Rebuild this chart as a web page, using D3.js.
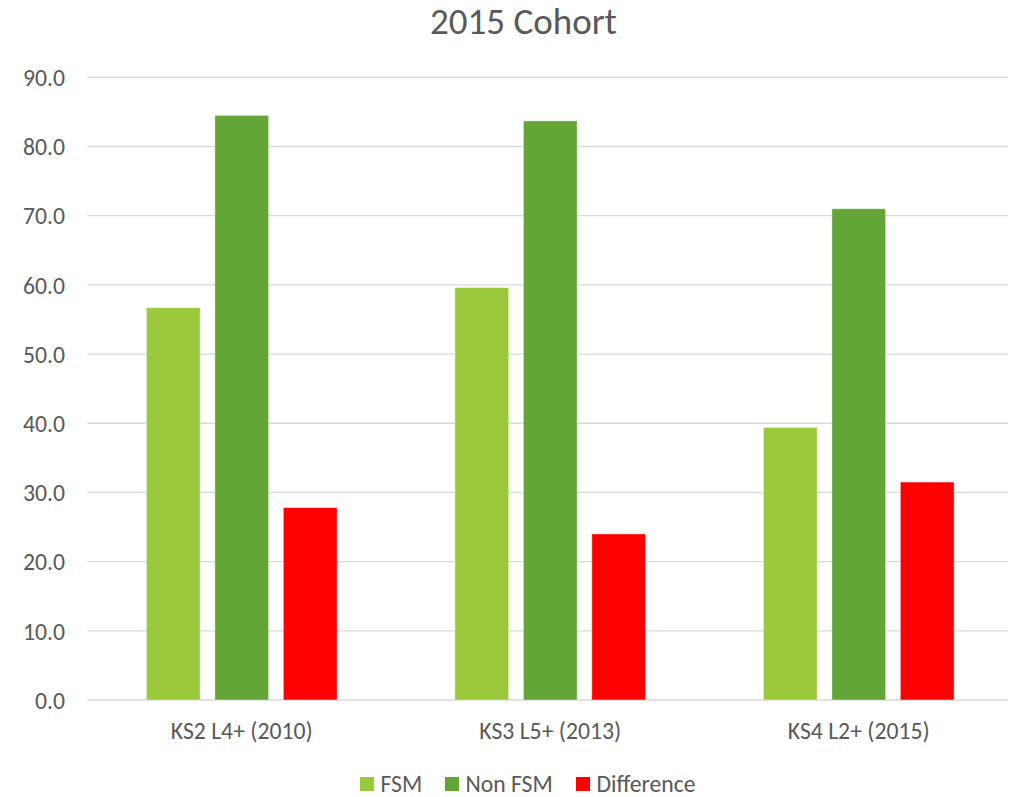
<!DOCTYPE html>
<html>
<head>
<meta charset="utf-8">
<script src="https://cdn.jsdelivr.net/npm/d3@7"></script>
<style>
  html, body { margin: 0; padding: 0; background: #ffffff; }
  svg { display: block; font-family: Carlito, Lato, "Open Sans", sans-serif; }
</style>
</head>
<body>
<svg id="chart" width="1016" height="797"></svg>
<script>
const categories = ["KS2 L4+ (2010)", "KS3 L5+ (2013)", "KS4 L2+ (2015)"];
const seriesNames = ["FSM", "Non FSM", "Difference"];
const fsm = [56.7, 59.6, 39.4];
const nonFsm = [84.5, 83.7, 71.0];
const difference = [27.8, 24.0, 31.5];
const yTicks = [0, 10, 20, 30, 40, 50, 60, 70, 80, 90];
const colors = ["#9ACA3C", "#63A537", "#FF0000"];
const title = "2015 Cohort";

const seriesValues = [fsm, nonFsm, difference];
const rows = categories.map((c, i) => ({
  cat: c,
  vals: seriesNames.map((s, j) => ({ key: s, value: seriesValues[j][i], color: colors[j] }))
}));

const FONT = "Carlito, Lato, 'Open Sans', sans-serif";
const svg = d3.select("#chart");
const plotLeft = 87.5, plotRight = 1008, bandRight = 1013;
const y = d3.scaleLinear().domain([0, 90]).range([700, 77.3]);
const x0 = d3.scaleBand().domain(categories).range([plotLeft, bandRight])
  .paddingInner(0.382).paddingOuter(0.191);
const x1 = d3.scaleBand().domain(seriesNames).range([0, x0.bandwidth()])
  .paddingInner(0.215).paddingOuter(0);

const textColor = "#595959";

// choose a font size so a sample text spans the target width
function fitSize(sample, targetWidth) {
  const t = svg.append("text").attr("font-family", FONT).attr("font-size", 100).text(sample);
  const w = t.node().getComputedTextLength();
  t.remove();
  return 100 * targetWidth / w;
}
const titleSize = fitSize(title, 187);
const tickSize = fitSize("90.0", 42);
const catSize = fitSize(categories[0], 142);
const legSize = fitSize("Difference", 99);

// title
svg.append("text")
  .attr("x", 523.5).attr("y", 33.5)
  .attr("text-anchor", "middle")
  .attr("fill", textColor)
  .attr("font-family", FONT)
  .attr("font-size", titleSize)
  .text(title);

// gridlines
svg.append("g").selectAll("line").data(yTicks).join("line")
  .attr("x1", plotLeft).attr("x2", plotRight)
  .attr("y1", d => y(d)).attr("y2", d => y(d))
  .attr("stroke", "#d9d9d9").attr("stroke-width", 1.3);

// y axis labels
const yAxis = d3.axisLeft(y).tickValues(yTicks).tickFormat(d3.format(".1f")).tickSize(0).tickPadding(0);
const gy = svg.append("g").attr("transform", "translate(65,0)").call(yAxis);
gy.select(".domain").remove();
gy.attr("font-size", null).attr("font-family", null);
gy.selectAll("text").attr("fill", textColor).attr("font-size", tickSize)
  .attr("font-family", FONT).attr("dy", "0.35em");

// bars
const groups = svg.append("g").selectAll("g").data(rows).join("g")
  .attr("transform", d => `translate(${x0(d.cat)},0)`);
groups.selectAll("rect").data(d => d.vals).join("rect")
  .attr("x", d => x1(d.key))
  .attr("width", x1.bandwidth())
  .attr("y", d => y(d.value))
  .attr("height", d => y(0) - y(d.value))
  .attr("fill", d => d.color)
  .attr("stroke", "#ffffff").attr("stroke-opacity", 0.5).attr("stroke-width", 0.8);

// x axis labels
const xAxis = d3.axisBottom(x0).tickSize(0).tickPadding(0);
const gx = svg.append("g").attr("transform", "translate(0,739)").call(xAxis);
gx.select(".domain").remove();
gx.attr("font-size", null).attr("font-family", null);
gx.selectAll("text").attr("fill", textColor).attr("font-size", catSize).attr("dy", 0)
  .attr("font-family", FONT);

// legend
const legendX = [360, 445, 576];
const legend = svg.append("g").selectAll("g").data(seriesNames).join("g")
  .attr("transform", (d, i) => `translate(${legendX[i]},777)`);
legend.append("rect").attr("width", 14).attr("height", 14)
  .attr("fill", (d, i) => colors[i]);
legend.append("text").attr("x", 20.5).attr("y", 14.5)
  .attr("fill", textColor).attr("font-family", FONT).attr("font-size", legSize)
  .text(d => d);
</script>
</body>
</html>
